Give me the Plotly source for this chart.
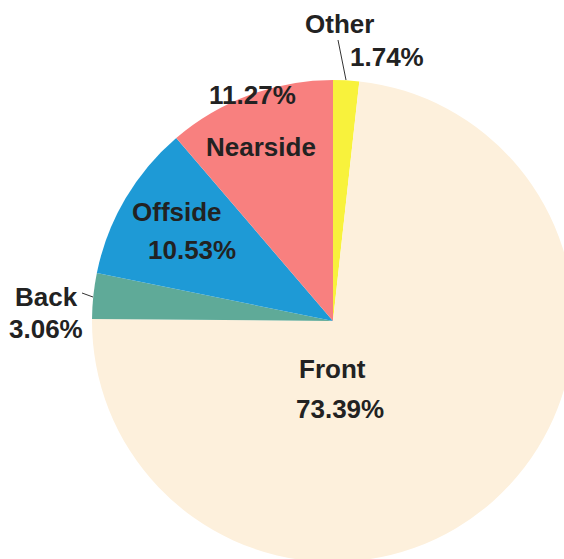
import plotly.graph_objects as go

# Data (clockwise from 12 o'clock)
labels = ["Other", "Front", "Back", "Offside", "Nearside"]
values = [1.74, 73.39, 3.06, 10.53, 11.27]
colors = ["#F8F23C", "#FDF0DC", "#5FAA98", "#1E9AD6", "#F8807F"]

# Layout geometry (pixels)
W, H = 666, 642
CX, CY, R = 333, 321, 241

fig = go.Figure(go.Pie(
    labels=labels,
    values=values,
    sort=False,
    direction="clockwise",
    rotation=0,
    marker=dict(colors=colors, line=dict(width=0)),
    textinfo="none",
    hoverinfo="label+percent",
    showlegend=False,
    domain=dict(x=[(CX - R) / W, (CX + R) / W], y=[(H - CY - R) / H, (H - CY + R) / H]),
))

def px(x, y):
    return x / W, 1 - y / H

label_pos = {
    "Other": [(339, 24), (387, 57)],
    "Nearside": [(261, 147), (252, 95)],
    "Offside": [(177, 212), (192, 250)],
    "Back": [(46, 297), (46, 329)],
    "Front": [(332, 369), (340, 409)],
}
font = dict(family="Liberation Sans, Arial, sans-serif", size=26, color="#222222")
for lab, val in zip(labels, values):
    (x1, y1), (x2, y2) = label_pos[lab]
    ax, ay = px(x1, y1)
    fig.add_annotation(x=ax, y=ay, xref="paper", yref="paper", text=f"<b>{lab}</b>",
                       showarrow=False, font=font, xanchor="center", yanchor="middle")
    bx, by = px(x2, y2)
    fig.add_annotation(x=bx, y=by, xref="paper", yref="paper", text=f"<b>{val:.2f}%</b>",
                       showarrow=False, font=font, xanchor="center", yanchor="middle")

# leader lines
for (xa, ya, xb, yb) in [(338, 40, 346, 80), (82, 293, 93, 297)]:
    p0 = px(xa, ya); p1 = px(xb, yb)
    fig.add_shape(type="line", xref="paper", yref="paper", x0=p0[0], y0=p0[1], x1=p1[0], y1=p1[1],
                  line=dict(color="#333333", width=1))

fig.update_layout(
    width=W, height=H,
    margin=dict(l=0, r=0, t=0, b=0),
    paper_bgcolor="white",
    plot_bgcolor="white",
)

fig.write_html("out.html", post_script=(
    "document.body.style.margin='0';document.body.style.overflow='hidden';"
    "document.documentElement.style.overflow='hidden';"
))
